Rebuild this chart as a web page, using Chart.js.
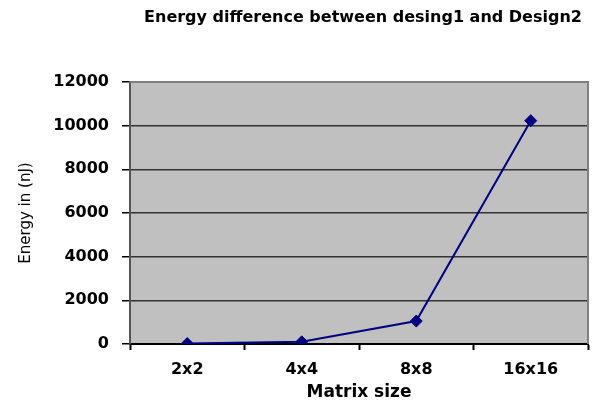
<!DOCTYPE html>
<html>
<head>
<meta charset="utf-8">
<script src="https://cdn.jsdelivr.net/npm/chart.js@4.4.1/dist/chart.umd.min.js"></script>
<style>
  html, body { margin: 0; padding: 0; background: #ffffff; }
  #wrap { width: 598px; height: 403px; }
</style>
</head>
<body>
<div id="wrap"><canvas id="c" width="598" height="403"></canvas></div>
<script>
// Matrix sizes on the x axis
const matrixSizes = ['2x2', '4x4', '8x8', '16x16'];
// Energy difference between the two designs, in nJ
const energyDiff = [20, 100, 1050, 10230];
// Value axis range and step
const yMin = 0;
const yMax = 12000;
const yStep = 2000;

const chartTitle = 'Energy difference between desing1 and Design2';
const xTitle = 'Matrix size';
const yTitle = 'Energy in (nJ)';

const boldFont = { family: 'DejaVu Sans', size: 16, weight: 'bold' };

// Gray plot panel with a thin frame, plus the heading above it
const panelPlugin = {
  id: 'panel',
  beforeDraw(chart) {
    const { ctx, chartArea: a } = chart;
    ctx.save();
    ctx.fillStyle = '#c0c0c0';
    ctx.fillRect(a.left, a.top, a.right - a.left, a.bottom - a.top);
    ctx.restore();
  },
  beforeDatasetsDraw(chart) {
    const { ctx, chartArea: a } = chart;
    ctx.save();
    ctx.strokeStyle = '#808080';
    ctx.lineWidth = 2;
    ctx.beginPath();
    ctx.moveTo(a.left, a.top);
    ctx.lineTo(a.right, a.top);
    ctx.lineTo(a.right, a.bottom);
    ctx.stroke();
    ctx.restore();
  },
  afterDraw(chart) {
    const { ctx, chartArea: a } = chart;
    ctx.save();
    ctx.font = 'bold 16px "DejaVu Sans"';
    ctx.fillStyle = '#000000';
    ctx.textAlign = 'center';
    ctx.textBaseline = 'middle';
    ctx.fillText(chartTitle, (a.left + a.right) / 2 + 4, 18);
    ctx.restore();
  }
};

new Chart(document.getElementById('c'), {
  type: 'line',
  data: {
    labels: matrixSizes,
    datasets: [{
      data: energyDiff,
      borderColor: '#000080',
      backgroundColor: '#000080',
      borderWidth: 2,
      tension: 0,
      pointStyle: 'rectRot',
      pointRadius: 6,
      pointHoverRadius: 6,
      pointBackgroundColor: '#000080',
      pointBorderColor: '#000080',
      pointBorderWidth: 1
    }]
  },
  options: {
    responsive: false,
    animation: false,
    devicePixelRatio: 1,
    layout: { padding: { top: 82, right: 10, left: 0, bottom: 0 } },
    plugins: {
      legend: { display: false },
      title: { display: false },
      tooltip: { enabled: false }
    },
    scales: {
      x: {
        type: 'category',
        offset: true,
        afterFit(scale) { scale.height = 59; },
        grid: {
          offset: true,
          drawOnChartArea: false,
          drawTicks: true,
          tickLength: 6,
          tickColor: '#000000',
          tickWidth: 2
        },
        border: { display: true, color: '#000000', width: 2 },
        ticks: { font: boldFont, color: '#000000', padding: 10, maxRotation: 0 },
        title: {
          display: true,
          text: xTitle,
          font: { family: 'DejaVu Sans', size: 17, weight: 'bold' },
          color: '#000000',
          padding: { top: 0, bottom: 0 }
        }
      },
      y: {
        min: yMin,
        max: yMax,
        afterFit(scale) { scale.width = 130; },
        grid: {
          color: '#333333',
          lineWidth: 1.5,
          drawTicks: true,
          tickLength: 8,
          tickColor: '#000000',
          tickWidth: 1.5
        },
        border: { display: true, color: '#555555', width: 2 },
        ticks: {
          stepSize: yStep,
          font: boldFont,
          color: '#000000',
          padding: 13,
          callback: (v) => String(v)
        },
        title: {
          display: true,
          text: yTitle,
          font: { family: 'DejaVu Sans', size: 15, weight: 'normal' },
          color: '#000000',
          padding: { top: 17, bottom: 0 }
        }
      }
    }
  },
  plugins: [panelPlugin]
});
</script>
</body>
</html>
